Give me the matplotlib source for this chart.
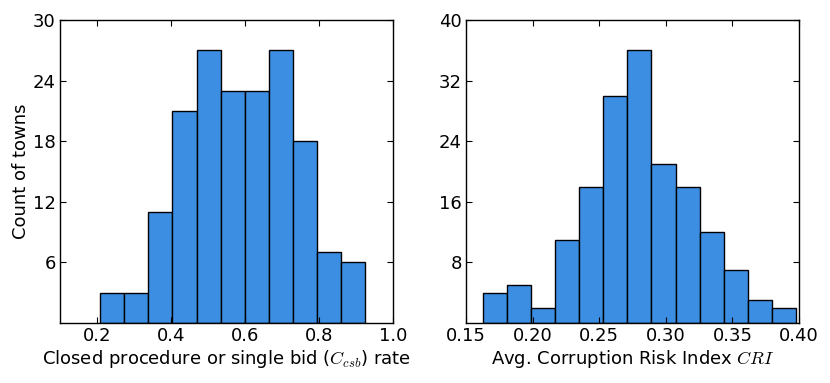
import matplotlib
matplotlib.use("Agg")
from matplotlib import pyplot as plt
import numpy as np

plt.rcParams['mathtext.fontset'] = 'cm'
plt.rcParams['font.family'] = ['DejaVu Sans']

# left histogram: closed procedure / single bid rate
csb_edges = [0.209, 0.274, 0.339, 0.404, 0.469, 0.534, 0.599,
             0.664, 0.729, 0.794, 0.859, 0.924]
csb_counts = [3, 3, 11, 21, 27, 23, 23, 27, 18, 7, 6]
csb_xticks = [0.2, 0.4, 0.6, 0.8, 1.0]
csb_yticks = [6, 12, 18, 24, 30]

# right histogram: average corruption risk index
cri_edges = [0.1625, 0.1806, 0.1987, 0.2168, 0.2349, 0.2530, 0.2711,
             0.2892, 0.3073, 0.3254, 0.3435, 0.3616, 0.3797, 0.3978]
cri_counts = [4, 5, 2, 11, 18, 30, 36, 21, 18, 12, 7, 3, 2]
cri_xticks = [0.15, 0.20, 0.25, 0.30, 0.35, 0.40]
cri_yticks = [8, 16, 24, 32, 40]

bar_color = "#3b8ee2"

fig = plt.figure(figsize=(8.3, 3.83), dpi=100)
ax1 = fig.add_axes([60 / 830, 1 - 323 / 383, 333 / 830, 303 / 383])
ax2 = fig.add_axes([466 / 830, 1 - 323 / 383, 333 / 830, 303 / 383])


def draw_hist(ax, edges, counts):
    edges = np.array(edges)
    ax.bar(edges[:-1], counts, width=np.diff(edges), align='edge',
           color=bar_color, edgecolor='black', linewidth=1)


draw_hist(ax1, csb_edges, csb_counts)
ax1.set_xlim(0.1, 1.0)
ax1.set_ylim(0, 30)
ax1.set_xticks(csb_xticks)
ax1.set_xticklabels([f"{t:.1f}" for t in csb_xticks])
ax1.set_yticks(csb_yticks)
ax1.set_ylabel("Count of towns", fontsize=13, labelpad=2)
ax1.set_xlabel(r"Closed procedure or single bid ($C_{csb}$) rate",
               fontsize=13, labelpad=2)

draw_hist(ax2, cri_edges, cri_counts)
ax2.set_xlim(0.15, 0.40)
ax2.set_ylim(0, 40)
ax2.set_xticks(cri_xticks)
ax2.set_xticklabels([f"{t:.2f}" for t in cri_xticks])
ax2.set_yticks(cri_yticks)
ax2.set_xlabel(r"Avg. Corruption Risk Index $CRI$", fontsize=13, labelpad=2)

for ax in (ax1, ax2):
    ax.tick_params(direction='in', top=True, right=True, length=4,
                   labelsize=13, pad=3)
    for s in ax.spines.values():
        s.set_linewidth(1)

fig.savefig("out.png", dpi=100)
